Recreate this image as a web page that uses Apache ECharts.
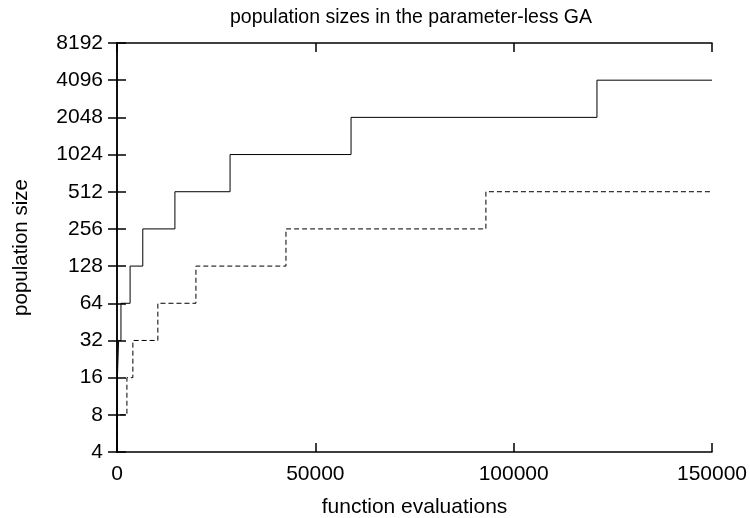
<!DOCTYPE html>
<html>
<head>
<meta charset="utf-8">
<script src="https://cdn.jsdelivr.net/npm/echarts@6/dist/echarts.min.js"></script>
<style>html,body{margin:0;padding:0;background:#fff}#c{width:750px;height:518px}</style>
</head>
<body>
<div id="c"></div>
<script>
const titleText = 'population sizes in the parameter-less GA';
const xName = 'function evaluations';
const yName = 'population size';
const xTicks = [0, 50000, 100000, 150000];
const yTicks = [4, 8, 16, 32, 64, 128, 256, 512, 1024, 2048, 4096, 8192];

// solid series: [evaluations, population size]
const solidX = [0, 30, 100, 400, 1000, 3300, 6500, 14600, 28500, 59000, 121000, 150000];
const solidY = [4, 8, 16, 32, 64, 128, 256, 512, 1024, 2048, 4096, 4096];
// dashed series
const dashX = [0, 50, 2500, 4000, 10300, 19900, 42600, 93000, 150000];
const dashY = [4, 8, 16, 32, 64, 128, 256, 512, 512];

const FONT = 'Liberation Sans';
const chart = echarts.init(document.getElementById('c'), null, {renderer: 'canvas'});
const axisLine = {show: true, lineStyle: {color: '#000', width: 1.5}};
const tick = {show: true, inside: true, length: 9, lineStyle: {color: '#000', width: 1.5}};
const yBase = {
  type: 'log', logBase: 2, min: yTicks[0], max: yTicks[yTicks.length - 1], interval: 1,
  axisLine: axisLine, axisTick: tick, splitLine: {show: false}
};
const xBase = {
  type: 'value', min: xTicks[0], max: xTicks[xTicks.length - 1], interval: xTicks[1] - xTicks[0],
  axisLine: axisLine, axisTick: tick, splitLine: {show: false}
};
chart.setOption({
  animation: false,
  backgroundColor: '#fff',
  title: {
    text: titleText, left: 406, top: 3, textAlign: 'center',
    textStyle: {fontFamily: FONT, fontSize: 19.5, fontWeight: 'normal', color: '#000'}
  },
  grid: {left: 117, right: 38, top: 43, bottom: 66, containLabel: false, outerBoundsMode: 'none'},
  xAxis: [
    Object.assign({}, xBase, {
      position: 'bottom', name: xName, nameLocation: 'middle', nameGap: 45,
      nameTextStyle: {fontFamily: FONT, fontSize: 21, color: '#000'},
      axisLabel: {fontFamily: FONT, fontSize: 21, color: '#000', margin: 12,
        formatter: v => String(Math.round(v))}
    }),
    Object.assign({}, xBase, {position: 'top', axisLabel: {show: false}})
  ],
  yAxis: [
    Object.assign({}, yBase, {
      position: 'left', name: yName, nameLocation: 'middle', nameGap: 85, nameRotate: 90,
      nameTextStyle: {fontFamily: FONT, fontSize: 20.5, color: '#000'},
      axisLabel: {fontFamily: FONT, fontSize: 21, color: '#000', margin: 14,
        formatter: v => String(Math.round(v))}
    }),
    Object.assign({}, yBase, {position: 'right', axisLabel: {show: false}})
  ],
  series: [
    {
      type: 'line', step: 'end', showSymbol: false, symbol: 'none',
      data: solidX.map((x, i) => [x, solidY[i]]),
      lineStyle: {color: '#000', width: 1, type: 'solid'}
    },
    {
      type: 'line', step: 'end', showSymbol: false, symbol: 'none',
      data: dashX.map((x, i) => [x, dashY[i]]),
      lineStyle: {color: '#000', width: 1, type: [5, 3]}
    }
  ]
});
</script>
</body>
</html>
